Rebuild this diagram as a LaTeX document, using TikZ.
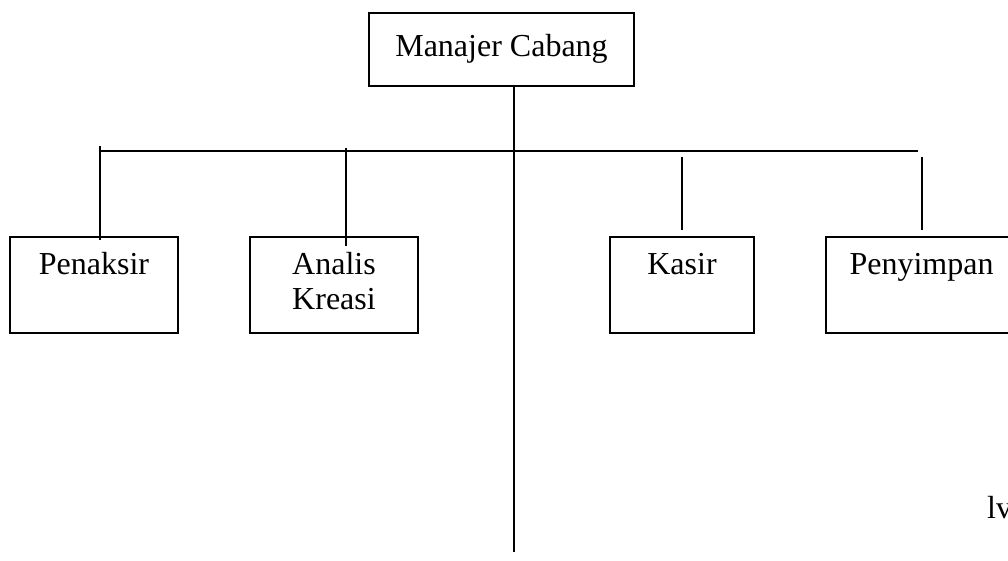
\documentclass[tikz,border=0pt]{standalone}
\usepackage{fontspec}
\setmainfont{Liberation Serif}
\begin{document}
\begin{tikzpicture}[x=1pt,y=-1pt,
  every node/.style={font=\fontsize{32}{35}\selectfont},
  box/.style={draw,line width=1.2pt,rectangle,inner sep=0pt,align=center},
  conn/.style={line width=1.2pt}]
\useasboundingbox (0,0) rectangle (1008,560);
\clip (0,0) rectangle (1008,560);
\fill[white] (0,0) rectangle (1008,560);
\node[box,minimum width=265,minimum height=73] (mgr) at (501.5,49.5) {\strut Manajer Cabang};
\node[box,minimum width=168,minimum height=96] (pen) at (94,285) {\strut Penaksir\\\strut};
\node[box,minimum width=168,minimum height=96] (ana) at (334,285) {\strut Analis\\\strut Kreasi};
\node[box,minimum width=144,minimum height=96] (kas) at (682,285) {\strut Kasir\\\strut};
\node[box,minimum width=191,minimum height=96] (pny) at (921.5,285) {\strut Penyimpan\\\strut};
\node[anchor=base west,inner sep=0pt] (lv) at (987,518) {lv};
\coordinate (mtop) at (514,86);
\coordinate (mend) at (514,552);
\coordinate (busL) at (100,151);
\coordinate (busR) at (918,151);
\coordinate (penT) at (100,146);
\coordinate (penB) at (100,240);
\coordinate (anaT) at (346,148);
\coordinate (anaB) at (346,246);
\coordinate (kasT) at (682,157);
\coordinate (kasB) at (682,230);
\coordinate (pnyT) at (922,157);
\coordinate (pnyB) at (922,230);
\draw[conn] (mtop) -- (mend);
\draw[conn] (busL) -- (busR);
\draw[conn] (penT) -- (penB);
\draw[conn] (anaT) -- (anaB);
\draw[conn] (kasT) -- (kasB);
\draw[conn] (pnyT) -- (pnyB);
\end{tikzpicture}
\end{document}
